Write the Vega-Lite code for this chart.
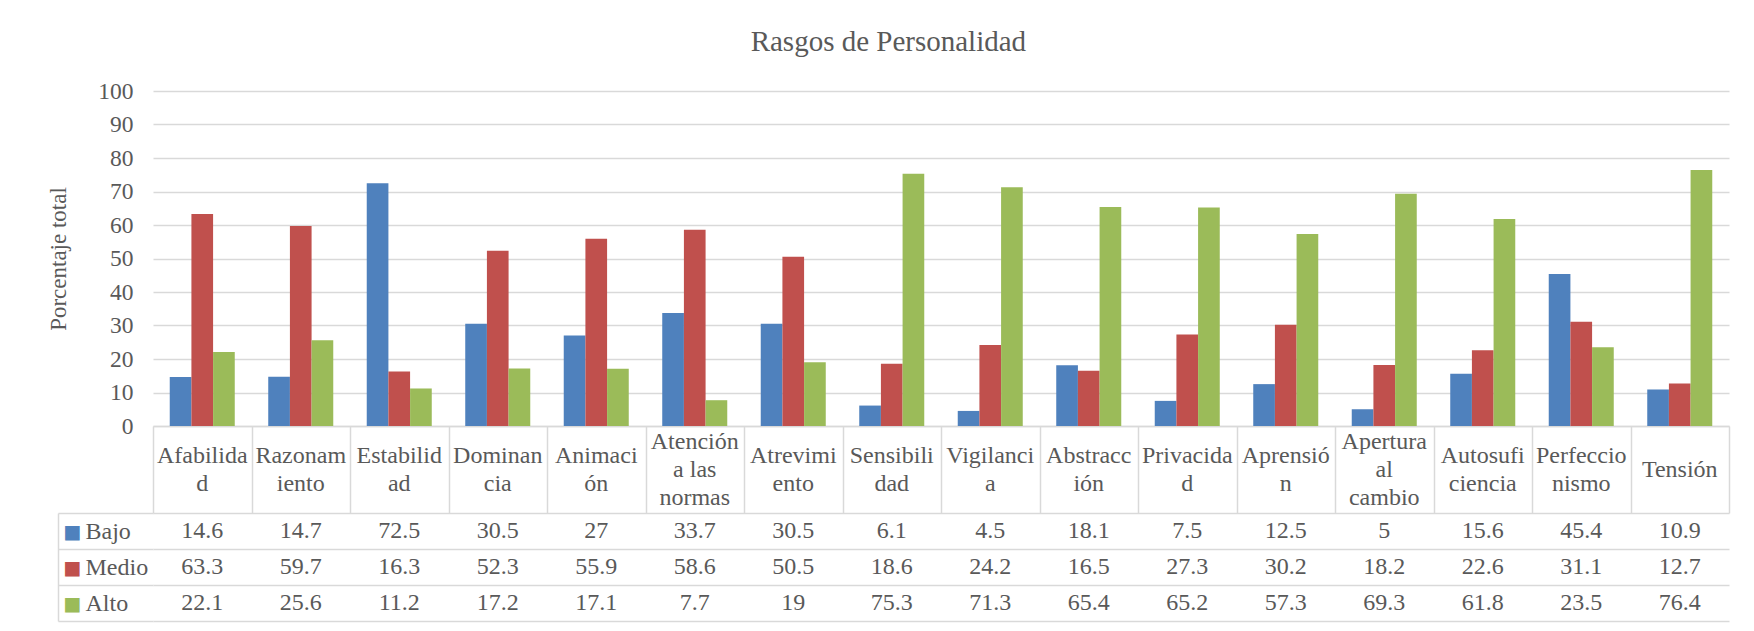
{
  "$schema": "https://vega.github.io/schema/vega-lite/v6.json",
  "background": "white",
  "padding": {"left": 47, "top": 28, "right": 20, "bottom": 5},
  "spacing": 0,
  "bounds": "flush",
  "title": {"text": "Rasgos de Personalidad", "font": "Liberation Serif", "fontSize": 29, "fontWeight": "normal", "color": "#595959", "anchor": "middle", "offset": 22},
  "config": {
    "view": {"stroke": null},
    "font": "Liberation Serif",
    "axis": {"labelFont": "Liberation Serif", "titleFont": "Liberation Serif", "labelColor": "#595959", "titleColor": "#595959", "gridColor": "#D9D9D9", "domainColor": "#D9D9D9", "tickColor": "#D9D9D9"}
  },
  "datasets": {
    "valores": [
      {"rasgo": "Afabilidad", "nivel": "Bajo", "valor": 14.6},
      {"rasgo": "Razonamiento", "nivel": "Bajo", "valor": 14.7},
      {"rasgo": "Estabilidad", "nivel": "Bajo", "valor": 72.5},
      {"rasgo": "Dominancia", "nivel": "Bajo", "valor": 30.5},
      {"rasgo": "Animación", "nivel": "Bajo", "valor": 27},
      {"rasgo": "Atención a las normas", "nivel": "Bajo", "valor": 33.7},
      {"rasgo": "Atrevimiento", "nivel": "Bajo", "valor": 30.5},
      {"rasgo": "Sensibilidad", "nivel": "Bajo", "valor": 6.1},
      {"rasgo": "Vigilancia", "nivel": "Bajo", "valor": 4.5},
      {"rasgo": "Abstracción", "nivel": "Bajo", "valor": 18.1},
      {"rasgo": "Privacidad", "nivel": "Bajo", "valor": 7.5},
      {"rasgo": "Aprensión", "nivel": "Bajo", "valor": 12.5},
      {"rasgo": "Apertura al cambio", "nivel": "Bajo", "valor": 5},
      {"rasgo": "Autosuficiencia", "nivel": "Bajo", "valor": 15.6},
      {"rasgo": "Perfeccionismo", "nivel": "Bajo", "valor": 45.4},
      {"rasgo": "Tensión", "nivel": "Bajo", "valor": 10.9},
      {"rasgo": "Afabilidad", "nivel": "Medio", "valor": 63.3},
      {"rasgo": "Razonamiento", "nivel": "Medio", "valor": 59.7},
      {"rasgo": "Estabilidad", "nivel": "Medio", "valor": 16.3},
      {"rasgo": "Dominancia", "nivel": "Medio", "valor": 52.3},
      {"rasgo": "Animación", "nivel": "Medio", "valor": 55.9},
      {"rasgo": "Atención a las normas", "nivel": "Medio", "valor": 58.6},
      {"rasgo": "Atrevimiento", "nivel": "Medio", "valor": 50.5},
      {"rasgo": "Sensibilidad", "nivel": "Medio", "valor": 18.6},
      {"rasgo": "Vigilancia", "nivel": "Medio", "valor": 24.2},
      {"rasgo": "Abstracción", "nivel": "Medio", "valor": 16.5},
      {"rasgo": "Privacidad", "nivel": "Medio", "valor": 27.3},
      {"rasgo": "Aprensión", "nivel": "Medio", "valor": 30.2},
      {"rasgo": "Apertura al cambio", "nivel": "Medio", "valor": 18.2},
      {"rasgo": "Autosuficiencia", "nivel": "Medio", "valor": 22.6},
      {"rasgo": "Perfeccionismo", "nivel": "Medio", "valor": 31.1},
      {"rasgo": "Tensión", "nivel": "Medio", "valor": 12.7},
      {"rasgo": "Afabilidad", "nivel": "Alto", "valor": 22.1},
      {"rasgo": "Razonamiento", "nivel": "Alto", "valor": 25.6},
      {"rasgo": "Estabilidad", "nivel": "Alto", "valor": 11.2},
      {"rasgo": "Dominancia", "nivel": "Alto", "valor": 17.2},
      {"rasgo": "Animación", "nivel": "Alto", "valor": 17.1},
      {"rasgo": "Atención a las normas", "nivel": "Alto", "valor": 7.7},
      {"rasgo": "Atrevimiento", "nivel": "Alto", "valor": 19},
      {"rasgo": "Sensibilidad", "nivel": "Alto", "valor": 75.3},
      {"rasgo": "Vigilancia", "nivel": "Alto", "valor": 71.3},
      {"rasgo": "Abstracción", "nivel": "Alto", "valor": 65.4},
      {"rasgo": "Privacidad", "nivel": "Alto", "valor": 65.2},
      {"rasgo": "Aprensión", "nivel": "Alto", "valor": 57.3},
      {"rasgo": "Apertura al cambio", "nivel": "Alto", "valor": 69.3},
      {"rasgo": "Autosuficiencia", "nivel": "Alto", "valor": 61.8},
      {"rasgo": "Perfeccionismo", "nivel": "Alto", "valor": 23.5},
      {"rasgo": "Tensión", "nivel": "Alto", "valor": 76.4}
    ],
    "rasgos": [
      {"rasgo": "Afabilidad", "lineas": ["Afabilida", "d"]},
      {"rasgo": "Razonamiento", "lineas": ["Razonam", "iento"]},
      {"rasgo": "Estabilidad", "lineas": ["Estabilid", "ad"]},
      {"rasgo": "Dominancia", "lineas": ["Dominan", "cia"]},
      {"rasgo": "Animación", "lineas": ["Animaci", "ón"]},
      {"rasgo": "Atención a las normas", "lineas": ["Atención", "a las", "normas"]},
      {"rasgo": "Atrevimiento", "lineas": ["Atrevimi", "ento"]},
      {"rasgo": "Sensibilidad", "lineas": ["Sensibili", "dad"]},
      {"rasgo": "Vigilancia", "lineas": ["Vigilanci", "a"]},
      {"rasgo": "Abstracción", "lineas": ["Abstracc", "ión"]},
      {"rasgo": "Privacidad", "lineas": ["Privacida", "d"]},
      {"rasgo": "Aprensión", "lineas": ["Aprensió", "n"]},
      {"rasgo": "Apertura al cambio", "lineas": ["Apertura", "al", "cambio"]},
      {"rasgo": "Autosuficiencia", "lineas": ["Autosufi", "ciencia"]},
      {"rasgo": "Perfeccionismo", "lineas": ["Perfeccio", "nismo"]},
      {"rasgo": "Tensión", "lineas": ["Tensión"]}
    ]
  },
  "vconcat": [
    {
      "width": 1576,
      "height": 335,
      "data": {"name": "valores"},
      "mark": {"type": "bar"},
      "encoding": {
        "x": {
          "field": "rasgo", "type": "nominal", "sort": null,
          "scale": {"domain": ["Afabilidad","Razonamiento","Estabilidad","Dominancia","Animación","Atención a las normas","Atrevimiento","Sensibilidad","Vigilancia","Abstracción","Privacidad","Aprensión","Apertura al cambio","Autosuficiencia","Perfeccionismo","Tensión"], "paddingInner": 0.34, "paddingOuter": 0.17},
          "axis": {"labels": false, "ticks": false, "title": null, "domain": true, "domainWidth": 1.5}
        },
        "xOffset": {"field": "nivel", "type": "nominal", "sort": null, "scale": {"domain": ["Bajo", "Medio", "Alto"], "paddingInner": 0, "paddingOuter": 0}},
        "y": {
          "field": "valor", "type": "quantitative",
          "scale": {"domain": [0, 100], "nice": false},
          "axis": {"values": [0, 10, 20, 30, 40, 50, 60, 70, 80, 90, 100], "grid": true, "gridWidth": 1.5, "domain": false, "ticks": false, "labelFontSize": 23.5, "labelPadding": 20, "title": "Porcentaje total", "titleFontSize": 23, "titleFontWeight": "normal", "titlePadding": 27}
        },
        "color": {"field": "nivel", "type": "nominal", "scale": {"domain": ["Bajo", "Medio", "Alto"], "range": ["#4F81BD", "#C0504D", "#9BBB59"]}, "legend": null}
      }
    },
    {
      "width": 1576,
      "height": 87,
      "data": {"name": "rasgos"},
      "encoding": {
        "x": {
          "field": "rasgo", "type": "nominal", "sort": null,
          "scale": {"domain": ["Afabilidad","Razonamiento","Estabilidad","Dominancia","Animación","Atención a las normas","Atrevimiento","Sensibilidad","Vigilancia","Abstracción","Privacidad","Aprensión","Apertura al cambio","Autosuficiencia","Perfeccionismo","Tensión"], "paddingInner": 0, "paddingOuter": 0},
          "axis": {"labels": false, "ticks": false, "domain": false, "title": null, "grid": true, "gridWidth": 1.5, "tickBand": "extent"}
        },
        "text": {"field": "lineas"}
      },
      "layer": [
        {
          "transform": [{"filter": "length(datum.lineas) == 1"}],
          "mark": {"type": "text", "font": "Liberation Serif", "fontSize": 24, "color": "#595959", "lineHeight": 28, "baseline": "middle", "align": "center", "dy": 0}
        },
        {
          "transform": [{"filter": "length(datum.lineas) == 2"}],
          "mark": {"type": "text", "font": "Liberation Serif", "fontSize": 24, "color": "#595959", "lineHeight": 28, "baseline": "middle", "align": "center", "dy": -14}
        },
        {
          "transform": [{"filter": "length(datum.lineas) == 3"}],
          "mark": {"type": "text", "font": "Liberation Serif", "fontSize": 24, "color": "#595959", "lineHeight": 28, "baseline": "middle", "align": "center", "dy": -28}
        }
      ]
    },
    {
      "width": 1576,
      "height": 108,
      "data": {"name": "valores"},
      "layer": [
        {
          "mark": {"type": "text", "font": "Liberation Serif", "fontSize": 24, "color": "#595959", "baseline": "middle", "align": "center"},
          "encoding": {
            "x": {
              "field": "rasgo", "type": "nominal", "sort": null,
              "scale": {"domain": ["Afabilidad","Razonamiento","Estabilidad","Dominancia","Animación","Atención a las normas","Atrevimiento","Sensibilidad","Vigilancia","Abstracción","Privacidad","Aprensión","Apertura al cambio","Autosuficiencia","Perfeccionismo","Tensión"], "paddingInner": 0, "paddingOuter": 0},
              "axis": {"labels": false, "ticks": false, "domain": false, "title": null, "grid": true, "gridWidth": 1.5, "tickBand": "extent"}
            },
            "y": {
              "field": "nivel", "type": "nominal", "sort": null,
              "scale": {"domain": ["Bajo", "Medio", "Alto"], "paddingInner": 0, "paddingOuter": 0},
              "axis": {"title": null, "grid": true, "gridWidth": 1.5, "tickBand": "extent", "ticks": true, "tickSize": 95, "tickWidth": 1.5, "domain": false, "labelAlign": "left", "labelBaseline": "middle", "labelPadding": -27, "labelFontSize": 24}
            },
            "text": {"field": "valor", "type": "quantitative"}
          }
        },
        {
          "mark": {"type": "text", "opacity": 0},
          "encoding": {
            "x": {"field": "rasgo", "type": "nominal", "sort": null, "axis": null},
            "y": {
              "field": "nivel", "type": "nominal", "sort": null,
              "scale": {"domain": ["Bajo", "Medio", "Alto"], "paddingInner": 0, "paddingOuter": 0},
              "axis": {"orient": "left", "offset": 95, "title": null, "ticks": false, "domain": true, "domainWidth": 1.5, "labelExpr": "'■'", "labelFont": "DejaVu Sans", "labelFontSize": 19, "labelAlign": "left", "labelBaseline": "middle", "labelPadding": -5,
                "labelColor": {"condition": [{"test": "datum.value === 'Bajo'", "value": "#4F81BD"}, {"test": "datum.value === 'Medio'", "value": "#C0504D"}], "value": "#9BBB59"}}
            },
            "text": {"field": "valor", "type": "quantitative"}
          }
        }
      ],
      "resolve": {"scale": {"y": "independent"}, "axis": {"y": "independent"}}
    }
  ]
}
